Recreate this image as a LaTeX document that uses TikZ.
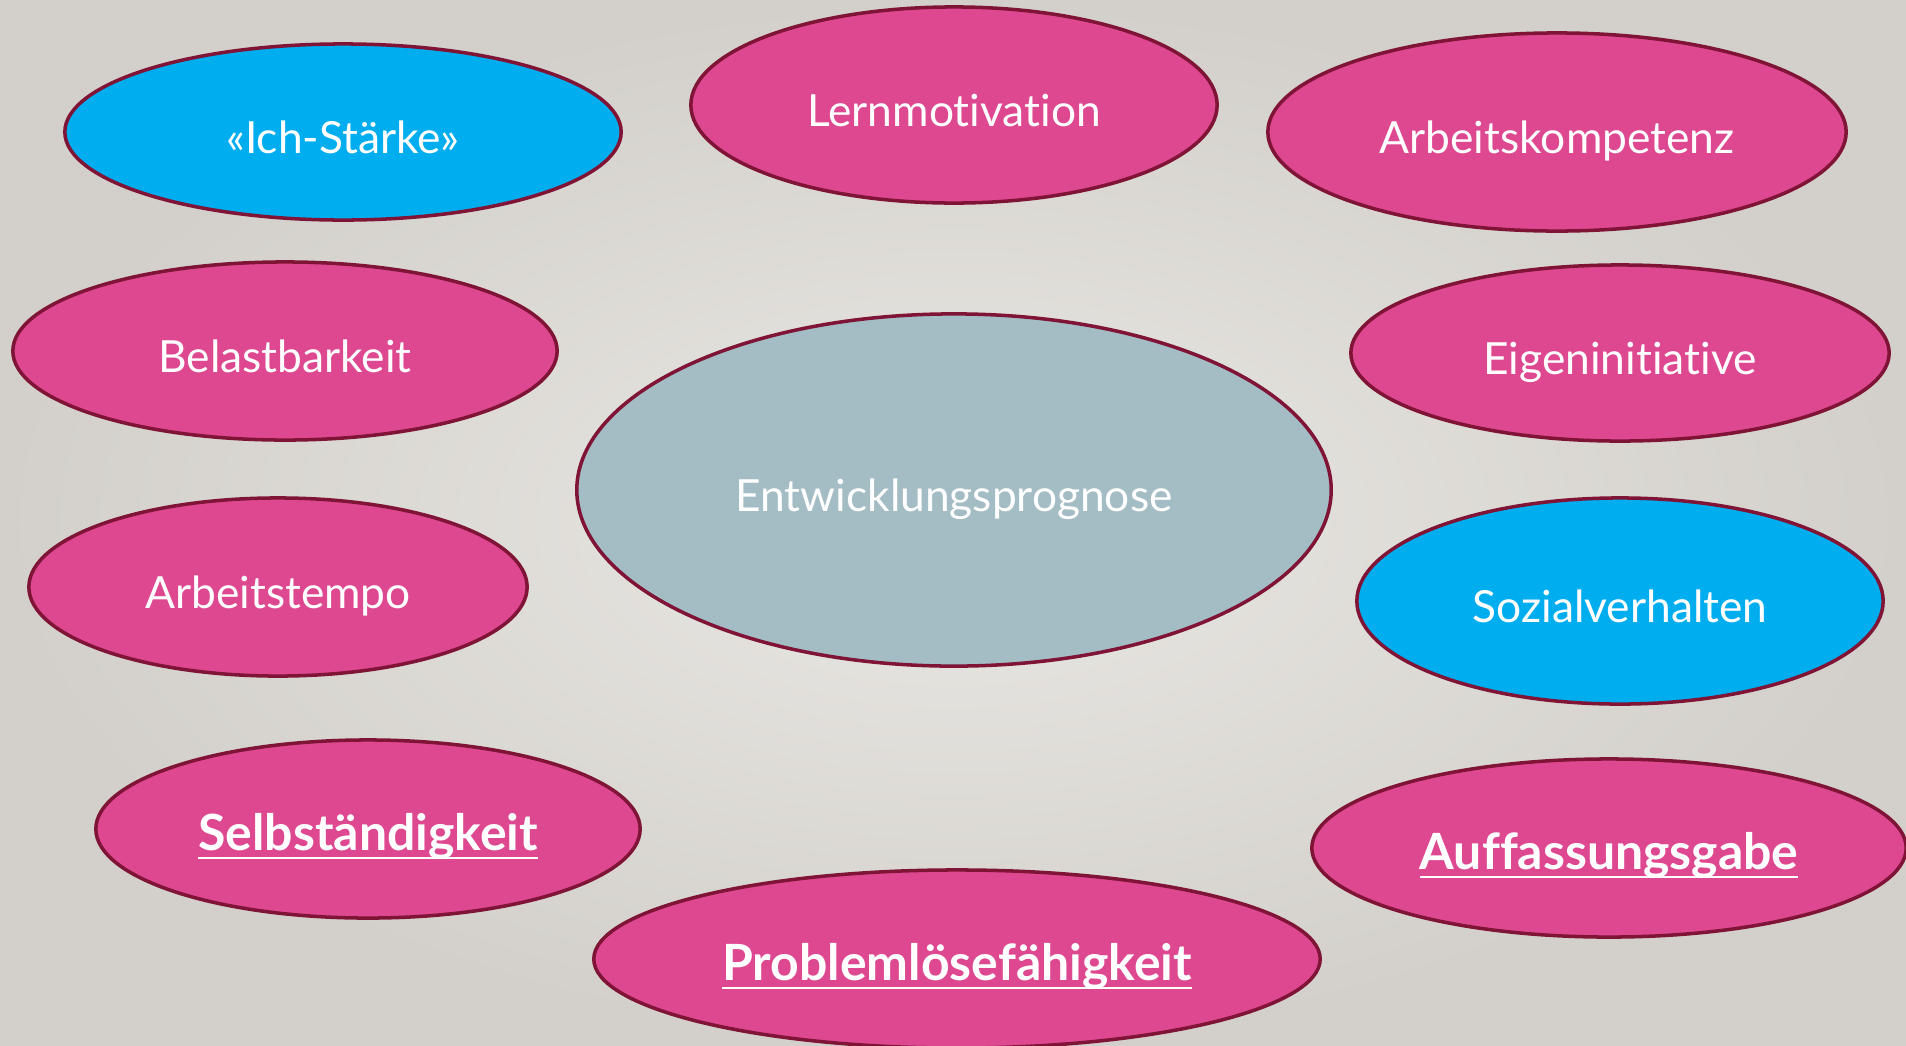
\documentclass[tikz,border=0pt]{standalone}
\usepackage{fontspec}
\setmainfont{Lato}[Ligatures=NoCommon]
\usepackage{tikz}
\usetikzlibrary{shapes.geometric}

\definecolor{rim}{HTML}{7F1437}
\definecolor{rose}{HTML}{DE4890}
\definecolor{sky}{HTML}{00AEEF}
\definecolor{slate}{HTML}{A4BDC5}
\definecolor{bgin}{HTML}{EAE8E4}
\definecolor{bgout}{HTML}{D3D0CB}

\newcommand{\keyword}[1]{\setbox0\hbox{\fontsize{14.2}{17}\selectfont\bfseries #1}%
	\rlap{\rule[-2.4pt]{\wd0}{0.8pt}}\box0}

\begin{document}
\begin{tikzpicture}[x=0.01cm, y=-0.01cm,
	oval/.style={ellipse, draw=rim, line width=1pt, inner sep=0pt, text=white,
		text height=12.5pt, text depth=0pt, font=\fontsize{12.6}{15}\selectfont},
	ovalsize/.style 2 args={minimum width=#1cm, minimum height=#2cm}]
	% background
	\useasboundingbox (0,0) rectangle (1906,1045);
	\shade[inner color=bgin, outer color=bgout] (0,0) rectangle (1906,1045);

	% nodes
	\node[oval, fill=sky, ovalsize={5.56}{1.76}] (ich) at (343,132) {«Ich-Stärke»};
	\node[oval, fill=rose, ovalsize={5.26}{1.96}] (lern) at (954,105) {Lernmotivation};
	\node[oval, fill=rose, ovalsize={5.78}{1.98}] (kompetenz) at (1557,132) {Arbeitskompetenz};
	\node[oval, fill=rose, ovalsize={5.44}{1.78}] (belast) at (285,351) {Belastbarkeit};
	\node[oval, fill=rose, ovalsize={5.38}{1.76}] (eigen) at (1620,353) {Eigeninitiative};
	\node[oval, fill=slate, ovalsize={7.54}{3.52}] (prognose) at (954,490) {Entwicklungsprognose};
	\node[oval, fill=rose, ovalsize={4.98}{1.78}] (tempo) at (278,587) {Arbeitstempo};
	\node[oval, fill=sky, ovalsize={5.26}{2.06}] (sozial) at (1620,601) {Sozialverhalten};
	\node[oval, fill=rose, ovalsize={5.44}{1.78}] (selbst) at (368,829) {\keyword{Selbständigkeit}};
	\node[oval, fill=rose, ovalsize={5.94}{1.78}] (auffass) at (1609,848) {\keyword{Auffassungsgabe}};
	\node[oval, fill=rose, ovalsize={7.26}{1.78}] (problem) at (957,959) {\keyword{Problemlösefähigkeit}};
\end{tikzpicture}
\end{document}
